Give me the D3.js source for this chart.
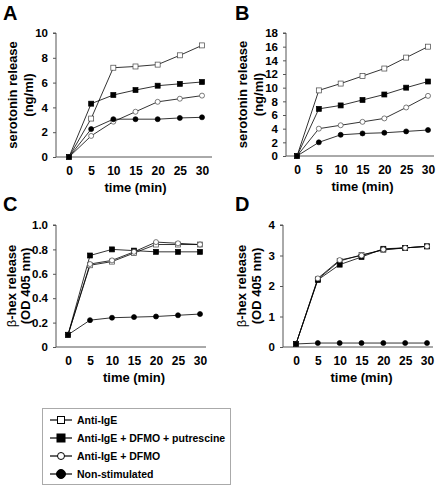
<!DOCTYPE html>
<html><head><meta charset="utf-8">
<script src="https://cdn.jsdelivr.net/npm/d3@7"></script>
<style>body{margin:0;background:#fff}svg{display:block;font-family:"Liberation Sans",Arial,sans-serif}</style>
</head><body>
<script>
const times = [0,5,10,15,20,25,30];
const seriesNames = ["Anti-IgE","Anti-IgE + DFMO + putrescine","Anti-IgE + DFMO","Non-stimulated"];
const seriesSymbols = ["openSquare","filledSquare","openCircle","filledCircle"];
// Panel A: serotonin release (ng/ml)
const A_antiIgE   = [0,3.1,7.2,7.3,7.45,8.2,9.0];
const A_dfmoPut   = [0,4.3,5.0,5.4,5.75,5.9,6.05];
const A_dfmo      = [0,1.7,2.85,3.65,4.45,4.7,4.95];
const A_nonStim   = [0,2.25,3.05,3.05,3.05,3.15,3.2];
// Panel B: serotonin release (ng/ml)
const B_antiIgE   = [0,9.6,10.6,11.7,12.8,14.4,16.0];
const B_dfmoPut   = [0,6.9,7.4,8.2,9.0,10.0,10.9];
const B_dfmo      = [0,4.0,4.5,5.0,5.5,7.1,8.8];
const B_nonStim   = [0,2.0,3.1,3.3,3.4,3.6,3.8];
// Panel C: beta-hex release (OD 405 nm)
const C_antiIgE   = [0.1,0.67,0.70,0.77,0.84,0.84,0.84];
const C_dfmoPut   = [0.1,0.75,0.80,0.79,0.78,0.78,0.78];
const C_dfmo      = [0.1,0.68,0.71,0.78,0.86,0.85,0.84];
const C_nonStim   = [0.1,0.22,0.24,0.245,0.25,0.26,0.27];
// Panel D: beta-hex release (OD 405 nm)
const D_antiIgE   = [0.1,2.22,2.82,3.02,3.18,3.25,3.3];
const D_dfmoPut   = [0.1,2.2,2.7,2.95,3.22,3.25,3.3];
const D_dfmo      = [0.1,2.25,2.85,3.0,3.2,3.25,3.3];
const D_nonStim   = [0.1,0.13,0.13,0.13,0.13,0.13,0.13];
const ticksA = [0,2,4,6,8,10], ticksB = [0,2,4,6,8,10,12,14,16,18];
const ticksC = [0,0.2,0.4,0.6,0.8,1.0], ticksD = [0,1,2,3,4];
const tickLabelsC = ["0","0.2","0.4","0.6","0.8","1.0"];

const W=443,H=489;
const svg=d3.select("body").append("svg").attr("width",W).attr("height",H);

const panels=[
 {letter:"A",lx:3,ly:20,ax:56,xl:69,xr:202,xe:212,yt:33,yb:157,max:10,ticks:ticksA,fmt:d=>d,
  data:[A_antiIgE,A_dfmoPut,A_dfmo,A_nonStim],lab1:"serotonin release",lab2:"(ng/ml)",l1x:12,l2x:28,beta:false},
 {letter:"B",lx:235,ly:20,ax:286,xl:297,xr:428,xe:434,yt:33,yb:156,max:18,ticks:ticksB,fmt:d=>d,
  data:[B_antiIgE,B_dfmoPut,B_dfmo,B_nonStim],lab1:"serotonin release",lab2:"(ng/ml)",l1x:242,l2x:258,beta:false},
 {letter:"C",lx:3,ly:211,ax:56,xl:68,xr:200,xe:206,yt:225,yb:347,max:1.0,ticks:ticksC,fmt:(d,i)=>tickLabelsC[i],
  data:[C_antiIgE,C_dfmoPut,C_dfmo,C_nonStim],lab1:"-hex release",lab2:"(OD 405 nm)",l1x:11,l2x:25,beta:true},
 {letter:"D",lx:235,ly:211,ax:283,xl:296,xr:427,xe:433,yt:225,yb:347,max:4,ticks:ticksD,fmt:d=>d,
  data:[D_antiIgE,D_dfmoPut,D_dfmo,D_nonStim],lab1:"-hex release",lab2:"(OD 405 nm)",l1x:241,l2x:256,beta:true}
];

function drawSymbol(g,type,x,y){
  const s=5,r=2.5;
  if(type==="openSquare"||type==="filledSquare"){
    g.append("rect").attr("x",x-s/2).attr("y",y-s/2).attr("width",s).attr("height",s)
     .attr("fill",type==="filledSquare"?"#000":"#fff").attr("stroke",type==="filledSquare"?"#000":"#444").attr("stroke-width",0.7);
  } else {
    g.append("circle").attr("cx",x).attr("cy",y).attr("r",r)
     .attr("fill",type==="filledCircle"?"#000":"#fff").attr("stroke",type==="filledCircle"?"#000":"#444").attr("stroke-width",0.7);
  }
}

const FF="Liberation Sans, Arial, sans-serif";
panels.forEach(p=>{
  const g=svg.append("g");
  const x=d3.scaleLinear().domain([0,30]).range([p.xl,p.xr]);
  const y=d3.scaleLinear().domain([0,p.max]).range([p.yb,p.yt]);
  g.append("text").attr("x",p.lx).attr("y",p.ly).attr("font-size",20).attr("font-weight","bold").text(p.letter);
  // y axis
  const ya=d3.axisLeft(y).tickValues(p.ticks).tickFormat(p.fmt).tickSize(3).tickPadding(5);
  const yg=g.append("g").attr("transform",`translate(${p.ax},0)`).call(ya);
  yg.select(".domain").attr("stroke","#555").attr("d",`M-3,${p.yt}H0V${p.yb}`);
  yg.selectAll(".tick line").attr("stroke","#555");
  yg.selectAll("text").attr("font-size",11.5).attr("font-weight","bold").attr("fill","#000").attr("font-family",FF);
  // x axis
  const xa=d3.axisBottom(x).tickValues(times).tickSize(0).tickPadding(9);
  const xg=g.append("g").attr("transform",`translate(0,${p.yb})`).call(xa);
  xg.select(".domain").attr("stroke","#555").attr("d",`M${p.ax},0H${p.xe}`);
  xg.selectAll("text").attr("font-size",12).attr("font-weight","bold").attr("fill","#000").attr("font-family",FF);
  g.append("text").attr("x",(p.xl+p.xr)/2).attr("y",p.yb+35).attr("text-anchor","middle")
   .attr("font-size",13).attr("font-weight","bold").text("time (min)");
  const cy=(p.yt+p.yb)/2;
  const t1=g.append("text").attr("transform",`translate(${p.l1x+5},${cy}) rotate(-90)`).attr("text-anchor","middle")
   .attr("font-size",13).attr("font-weight","bold");
  if(p.beta){ t1.append("tspan").attr("font-weight","normal").text("β"); }
  t1.append("tspan").text(p.lab1);
  g.append("text").attr("transform",`translate(${p.l2x+5},${cy}) rotate(-90)`).attr("text-anchor","middle")
   .attr("font-size",13).attr("font-weight","bold").text(p.lab2);
  // series
  const line=d3.line().x((d,i)=>x(times[i])).y(d=>y(d));
  p.data.forEach((vals,si)=>{
    g.append("path").attr("d",line(vals)).attr("fill","none").attr("stroke","#000").attr("stroke-width",0.8);
  });
  p.data.forEach((vals,si)=>{
    vals.forEach((v,i)=>drawSymbol(g,seriesSymbols[si],x(times[i]),y(v)));
  });
});

// legend
const lg=svg.append("g");
lg.append("rect").attr("x",42.5).attr("y",408.5).attr("width",188).attr("height",76).attr("fill","#fff").attr("stroke","#aaa");
const ly=d3.scalePoint().domain(seriesNames).range([420,474]);
seriesNames.forEach((n,i)=>{
  const yy=ly(n);
  lg.append("line").attr("x1",50).attr("x2",72).attr("y1",yy).attr("y2",yy).attr("stroke","#000").attr("stroke-width",1.2);
  const s=i===3?9:(i===1?8:7);
  if(i<2){
    lg.append("rect").attr("x",61-s/2).attr("y",yy-s/2).attr("width",s).attr("height",s)
      .attr("fill",i===1?"#000":"#fff").attr("stroke","#000").attr("stroke-width",1);
  } else {
    lg.append("circle").attr("cx",61).attr("cy",yy).attr("r",s/2)
      .attr("fill",i===3?"#000":"#fff").attr("stroke","#000").attr("stroke-width",1);
  }
  lg.append("text").attr("x",77).attr("y",yy+4).attr("font-size",10.5).attr("font-weight","bold").text(n);
});
</script>
</body></html>
